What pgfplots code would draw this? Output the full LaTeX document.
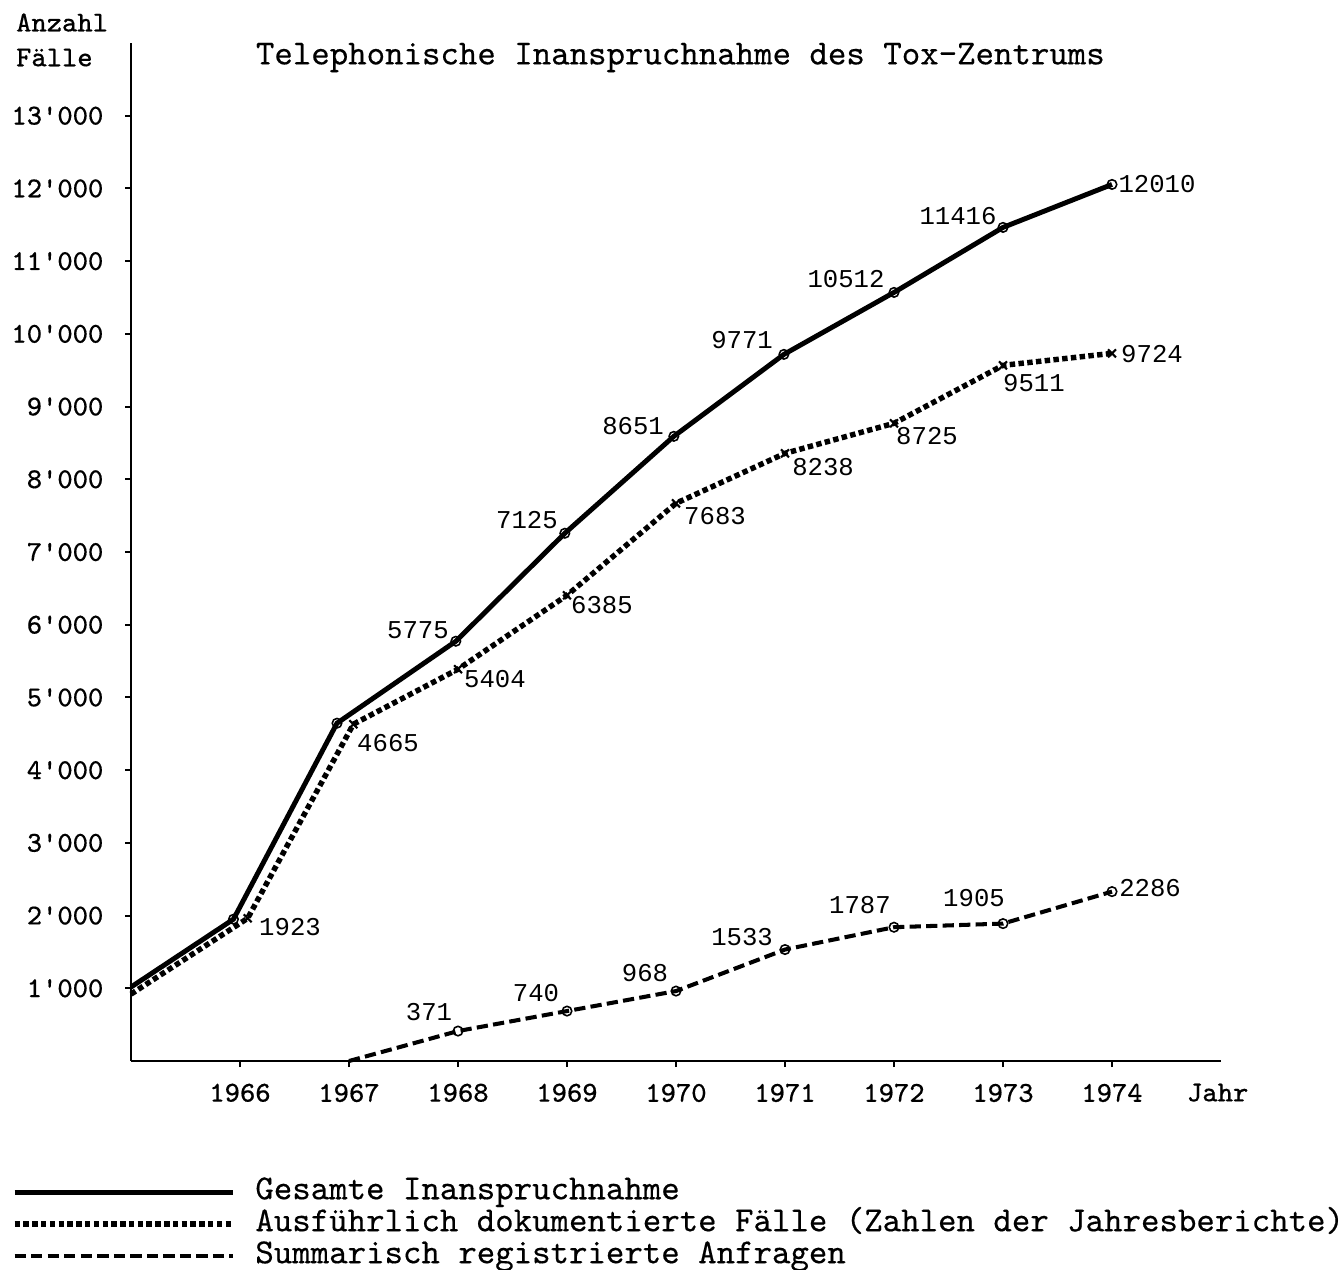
\documentclass[border=0pt]{standalone}
\usepackage{fontspec}
\setmainfont{Liberation Mono}
\newfontfamily\tw{Latin Modern Mono}[FakeBold=0.4]
\usepackage{pgfplots}
\pgfplotsset{compat=1.18}
\newcommand\q{\textquotesingle}
\newcommand\tickfont{\tw\fontsize{8.2}{9.6}\selectfont}
\newcommand\bigfont{\tw\fontsize{10}{11.5}\selectfont}
\newcommand\lblfont{\fontsize{7.3}{8.6}\selectfont}
\begin{document}
\begin{tikzpicture}
\begin{axis}[
  scale only axis, width=10.9cm, height=10.18cm,
  at={(0,0)}, anchor=south west,
  xmin=1965, xmax=1975, ymin=0, ymax=14000,
  scaled y ticks=false, scaled x ticks=false,
  axis lines=left, axis line style={-, line width=0.75pt, black},
  tick align=outside, major tick length=0.06cm,
  tick style={line width=0.6pt, black},
  xtick={1966,1967,1968,1969,1970,1971,1972,1973,1974},
  xticklabels={1966,1967,1968,1969,1970,1971,1972,1973,1974},
  ytick={1000,2000,3000,4000,5000,6000,7000,8000,9000,10000,11000,12000,13000},
  yticklabels={1\q000,2\q000,3\q000,4\q000,5\q000,6\q000,7\q000,8\q000,9\q000,10\q000,11\q000,12\q000,13\q000},
  xticklabel style={font=\tickfont, inner sep=0pt, anchor=north, yshift=-0.16cm},
  yticklabel style={font=\tickfont, inner sep=0pt, anchor=east, xshift=-0.21cm},
  clip=false,
  legend style={at={(-0.1092,-0.113)}, anchor=north west, draw=none, fill=none,
    inner sep=0pt, outer sep=0pt, font=\bigfont, cells={anchor=west},
    column sep=0.2cm, row sep=0pt,
    nodes={inner sep=0pt, text height=6.6pt, text depth=2.5pt}},
  legend image code/.code={\draw[#1] (0cm,0cm) -- (2.18cm,0cm);},
]
\addplot[black, line width=1.4pt, mark=o, mark indices={2,3,4,5,6,7,8,9,10}, mark size=1.35pt,
  mark options={solid, fill=white, line width=0.45pt}] coordinates {
  (1965,1017) (1965.94,1950) (1966.89,4646) (1967.98,5773) (1968.98,7258)
  (1969.98,8591) (1970.99,9718) (1972,10570) (1973,11464) (1974,12055)};
\addlegendentry{Gesamte Inanspruchnahme}
\addplot[black, line width=1.55pt, dash pattern=on 1.55pt off 0.95pt, mark=x,
  mark indices={2,3,4,5,6,7,8,9,10}, mark size=1.6pt,
  mark options={solid, line width=0.6pt}] coordinates {
  (1965,920) (1966.07,1962) (1967.04,4632) (1968,5388) (1969,6405)
  (1970,7670) (1971,8357) (1972,8770) (1973,9567) (1974,9732)};
\addlegendentry{Ausführlich dokumentierte Fälle (Zahlen der Jahresberichte)}
\addplot[black, line width=1.15pt, dash pattern=on 3.2pt off 1.5pt, mark=o,
  mark indices={2,3,4,5,6,7,8}, mark size=1.35pt,
  mark options={solid, fill=white, line width=0.45pt}] coordinates {
  (1967,0) (1968,412) (1969,687) (1970,962) (1971,1533)
  (1972,1840) (1973,1890) (1974,2330)};
\addlegendentry{Summarisch registrierte Anfragen}

\node[font=\bigfont] at (axis cs:1970.04,13800) {Telephonische Inanspruchnahme des Tox-Zentrums};
\node[font=\tickfont, anchor=west, inner sep=0pt] at (axis cs:1963.94,14282) {Anzahl};
\node[font=\tickfont, anchor=west, inner sep=0pt] at (axis cs:1963.94,13800) {Fälle};
\node[font=\tickfont, anchor=north, inner sep=0pt, yshift=-0.22cm] at (axis cs:1974.97,0) {Jahr};

\node[font=\lblfont, inner sep=0pt] at (axis cs:1966.459,1842) {1923};
\node[font=\lblfont, inner sep=0pt] at (axis cs:1967.358,4371) {4665};
\node[font=\lblfont, inner sep=0pt] at (axis cs:1967.633,5924) {5775};
\node[font=\lblfont, inner sep=0pt] at (axis cs:1968.339,5251) {5404};
\node[font=\lblfont, inner sep=0pt] at (axis cs:1968.633,7436) {7125};
\node[font=\lblfont, inner sep=0pt] at (axis cs:1969.321,6268) {6385};
\node[font=\lblfont, inner sep=0pt] at (axis cs:1969.606,8729) {8651};
\node[font=\lblfont, inner sep=0pt] at (axis cs:1970.358,7491) {7683};
\node[font=\lblfont, inner sep=0pt] at (axis cs:1970.606,9911) {9771};
\node[font=\lblfont, inner sep=0pt] at (axis cs:1971.349,8165) {8238};
\node[font=\lblfont, inner sep=0pt] at (axis cs:1971.560,10749) {10512};
\node[font=\lblfont, inner sep=0pt] at (axis cs:1972.303,8591) {8725};
\node[font=\lblfont, inner sep=0pt] at (axis cs:1972.587,11615) {11416};
\node[font=\lblfont, inner sep=0pt] at (axis cs:1973.284,9320) {9511};
\node[font=\lblfont, inner sep=0pt] at (axis cs:1974.413,12055) {12010};
\node[font=\lblfont, inner sep=0pt] at (axis cs:1974.367,9718) {9724};
\node[font=\lblfont, inner sep=0pt] at (axis cs:1967.734,674) {371};
\node[font=\lblfont, inner sep=0pt] at (axis cs:1968.716,935) {740};
\node[font=\lblfont, inner sep=0pt] at (axis cs:1969.716,1210) {968};
\node[font=\lblfont, inner sep=0pt] at (axis cs:1970.606,1704) {1533};
\node[font=\lblfont, inner sep=0pt] at (axis cs:1971.688,2144) {1787};
\node[font=\lblfont, inner sep=0pt] at (axis cs:1972.734,2241) {1905};
\node[font=\lblfont, inner sep=0pt] at (axis cs:1974.349,2378) {2286};
\end{axis}
\pgfresetboundingbox
\useasboundingbox (-1.31cm,-2.08cm) rectangle (12.09cm,10.61cm);
\end{tikzpicture}
\end{document}
